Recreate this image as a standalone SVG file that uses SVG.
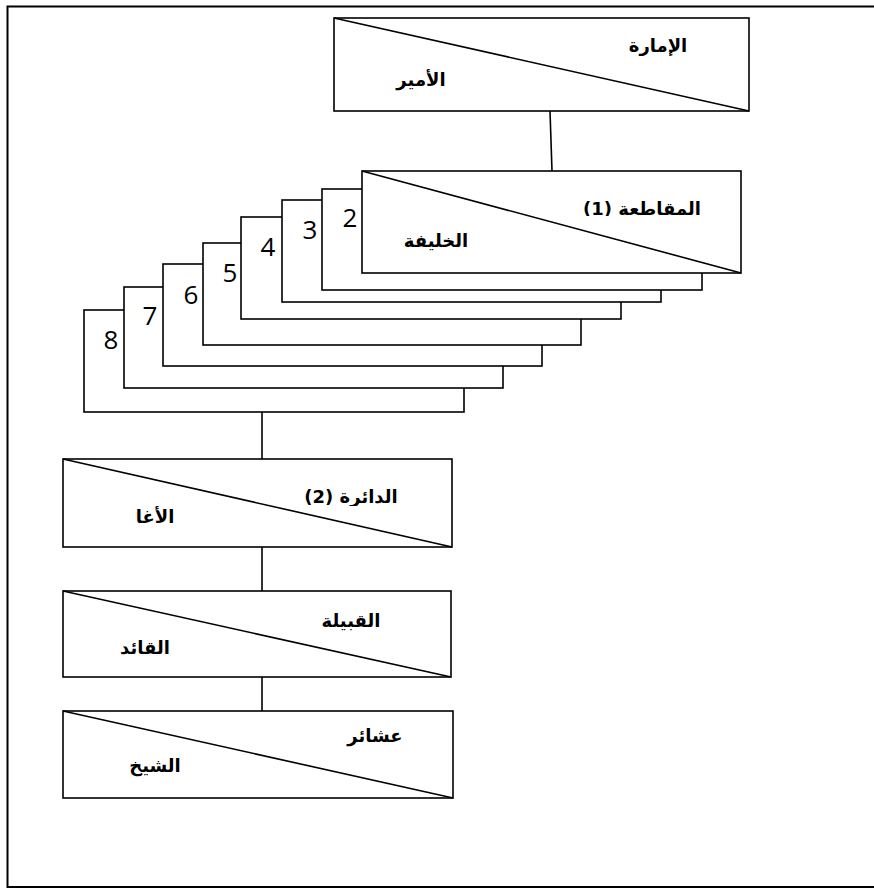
<svg xmlns="http://www.w3.org/2000/svg" width="874" height="889" viewBox="0 0 874 889">
  <style>
    .frame { fill: none; stroke: #000; stroke-width: 2; }
    .box { fill: #fff; stroke: #000; stroke-width: 1.6; }
    .diag { stroke: #000; stroke-width: 1.6; fill: none; }
    .link { stroke: #000; stroke-width: 1.6; fill: none; }
    .ar { font-family: "DejaVu Sans", sans-serif; font-weight: bold; font-size: 18px; fill: #000; text-anchor: middle; direction: rtl; }
    .num { font-family: "Open Sans", "Noto Sans", sans-serif; font-size: 26px; fill: #000; text-anchor: middle; }
  </style>
  <defs>
    <clipPath id="clip-muqataa"><rect x="560" y="190" width="175" height="26"/></clipPath>
    <clipPath id="clip-daira"><rect x="285" y="480" width="140" height="26"/></clipPath>
  </defs>

  <rect width="874" height="889" fill="#fff"/>
  <path class="frame" d="M874,6.5 H7.5 V887 H874"/>

  <g id="connectors">
    <line class="link" x1="550" y1="111" x2="552" y2="171"/>
    <line class="link" x1="262" y1="412" x2="262" y2="459"/>
    <line class="link" x1="262" y1="547" x2="262" y2="591"/>
    <line class="link" x1="262" y1="677" x2="262" y2="711"/>
  </g>

  <g id="emirate">
    <rect class="box" x="334" y="18" width="415" height="93"/>
    <line class="diag" x1="334" y1="18" x2="749" y2="111"/>
    <text class="ar" x="658" y="52">الإمارة</text>
    <text class="ar" x="421" y="86">الأمير</text>
  </g>

  <g id="district-stack">
    <g id="district-8">
      <rect class="box" x="84" y="310" width="380" height="102"/>
      <text class="num" x="111" y="349">8</text>
    </g>
    <g id="district-7">
      <rect class="box" x="124" y="287" width="379" height="101"/>
      <text class="num" x="150" y="325">7</text>
    </g>
    <g id="district-6">
      <rect class="box" x="163" y="264" width="379" height="102"/>
      <text class="num" x="191" y="304">6</text>
    </g>
    <g id="district-5">
      <rect class="box" x="203" y="243" width="378" height="102"/>
      <text class="num" x="230" y="282">5</text>
    </g>
    <g id="district-4">
      <rect class="box" x="241" y="217" width="380" height="102"/>
      <text class="num" x="268" y="256">4</text>
    </g>
    <g id="district-3">
      <rect class="box" x="282" y="200" width="379" height="102"/>
      <text class="num" x="310" y="239">3</text>
    </g>
    <g id="district-2">
      <rect class="box" x="322" y="189" width="380" height="101"/>
      <text class="num" x="350" y="227">2</text>
    </g>
    <g id="district-1">
      <rect class="box" x="362" y="171" width="379" height="102"/>
      <line class="diag" x1="362" y1="171" x2="741" y2="273"/>
      <text class="ar" x="642" y="215" clip-path="url(#clip-muqataa)">المقاطعة (1)</text>
      <text class="ar" x="436" y="247">الخليفة</text>
    </g>
  </g>

  <g id="circle">
    <rect class="box" x="63" y="459" width="389" height="88"/>
    <line class="diag" x1="63" y1="459" x2="452" y2="547"/>
    <text class="ar" x="351" y="503" clip-path="url(#clip-daira)">الدائرة (2)</text>
    <text class="ar" x="155" y="523">الأغا</text>
  </g>

  <g id="tribe">
    <rect class="box" x="63" y="591" width="388" height="86"/>
    <line class="diag" x1="63" y1="591" x2="451" y2="677"/>
    <text class="ar" x="351" y="627">القبيلة</text>
    <text class="ar" x="145" y="654">القائد</text>
  </g>

  <g id="clans">
    <rect class="box" x="63" y="711" width="390" height="87"/>
    <line class="diag" x1="63" y1="711" x2="453" y2="798"/>
    <text class="ar" x="375" y="742">عشائر</text>
    <text class="ar" x="155" y="772">الشيخ</text>
  </g>
</svg>
